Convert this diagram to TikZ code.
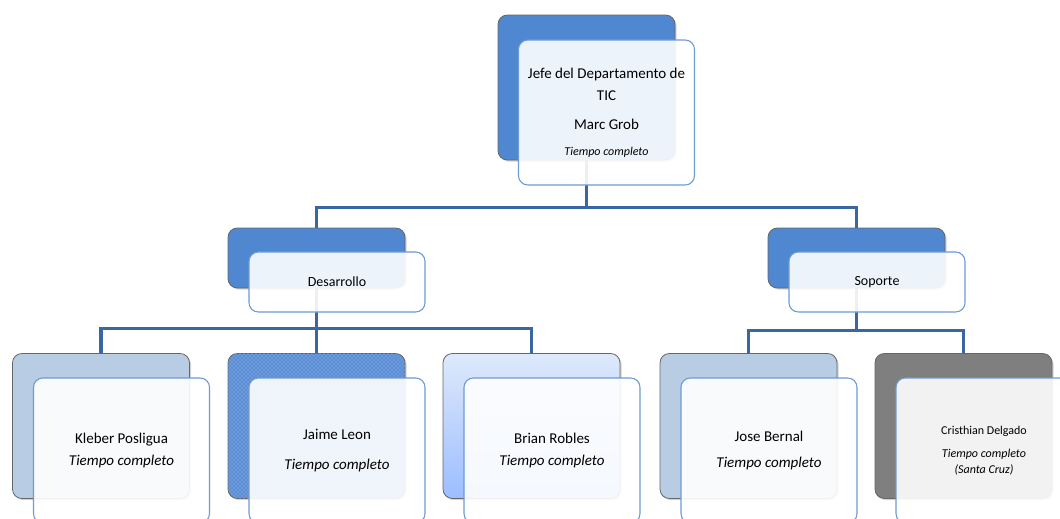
\documentclass[tikz,border=0pt]{standalone}
\usepackage{fontspec}
\setmainfont{Carlito}
\usepackage{xcolor}
\usepackage{tikz}
\usetikzlibrary{positioning,calc,shadows,patterns}

\definecolor{boxblue}{RGB}{79,135,208}
\definecolor{boxsteel}{RGB}{184,204,228}
\definecolor{boxgray}{RGB}{127,127,127}
\definecolor{dotblue}{RGB}{92,142,214}
\definecolor{frontline}{RGB}{109,155,211}
\definecolor{linkblue}{RGB}{58,103,163}

\tikzset{
  back/.style={draw=gray!80!black, line width=0.6pt, rounded corners=7pt, minimum width=132.75pt, minimum height=108.75pt, drop shadow={shadow xshift=1.2pt, shadow yshift=-1.2pt, opacity=0.35}},
  backsmall/.style={back, minimum height=45pt},
  front/.style={draw=frontline, line width=0.8pt, fill=white, fill opacity=0.9, text opacity=1, rounded corners=7pt, minimum width=132pt, minimum height=108.75pt, align=center, font=\fontsize{11.25}{16.5}\selectfont},
  frontsmall/.style={front, minimum height=45pt},
  link/.style={draw=linkblue, line width=2.3pt}
}

\begin{document}
\begin{tikzpicture}[x=0.75pt,y=0.75pt,yscale=-1]
\clip (0,0) rectangle (1060,518);

%Back boxes
\node [back, fill=boxblue] (jefeB) at (586.5,87.5) {};
\node [backsmall, fill=boxblue] (desB) at (316.5,258) {};
\node [backsmall, fill=boxblue] (sopB) at (856.5,258) {};
\node [back, fill=boxsteel] (kleB) at (101,426) {};
\node [back, fill=dotblue, postaction={pattern=crosshatch dots, pattern color=white!45!dotblue}] (jaiB) at (316.5,426) {};
\node [back, top color={rgb,255:red,222;green,233;blue,251}, bottom color={rgb,255:red,156;green,189;blue,255}] (briB) at (531.5,426) {};
\node [back, fill=boxsteel] (josB) at (748.5,426) {};
\node [back, fill=boxgray] (criB) at (963.5,426) {};

%Connectors
\draw [link] (jefeB.south) -- ++(0,47) -| (desB.north);
\draw [link] (jefeB.south) -- ++(0,47) -| (sopB.north);
\draw [link] (desB.south) -- ++(0,40) -| (kleB.north);
\draw [link] (desB.south) -- ++(0,40) -| (jaiB.north);
\draw [link] (desB.south) -- ++(0,40) -| (briB.north);
\draw [link] (sopB.south) -- ++(0,42) -| (josB.north);
\draw [link] (sopB.south) -- ++(0,42) -| (criB.north);

% Text Node
\node [front] (jefe) at ($(jefeB)+(20,25)$) {Jefe del Departamento de\\TIC\\[5pt] Marc Grob\\[3pt] {\fontsize{9}{11}\selectfont\itshape Tiempo completo}};
% Text Node
\node [frontsmall, font=\fontsize{10.5}{13}\selectfont] (des) at ($(desB)+(20.5,24)$) {Desarrollo};
% Text Node
\node [frontsmall, font=\fontsize{10.5}{13}\selectfont] (sop) at ($(sopB)+(20.5,24)$) {Soporte};
% Text Node
\node [front] (kle) at ($(kleB)+(20.5,24.5)$) {Kleber Posligua\\ \textit{Tiempo completo}};
% Text Node
\node [front] (jai) at ($(jaiB)+(20.5,24.5)$) {Jaime Leon\\[6pt] \textit{Tiempo completo}};
% Text Node
\node [front] (bri) at ($(briB)+(20.5,24.5)$) {Brian Robles\\ \textit{Tiempo completo}};
% Text Node
\node [front] (jos) at ($(josB)+(20.5,24.5)$) {Jose Bernal\\[3pt] \textit{Tiempo completo}};
% Text Node
\node [front, font=\fontsize{9}{12}\selectfont] (cri) at ($(criB)+(20.5,24.5)$) {Cristhian Delgado\\[5pt] \textit{Tiempo completo}\\ \textit{(Santa Cruz)}};

\end{tikzpicture}
\end{document}
